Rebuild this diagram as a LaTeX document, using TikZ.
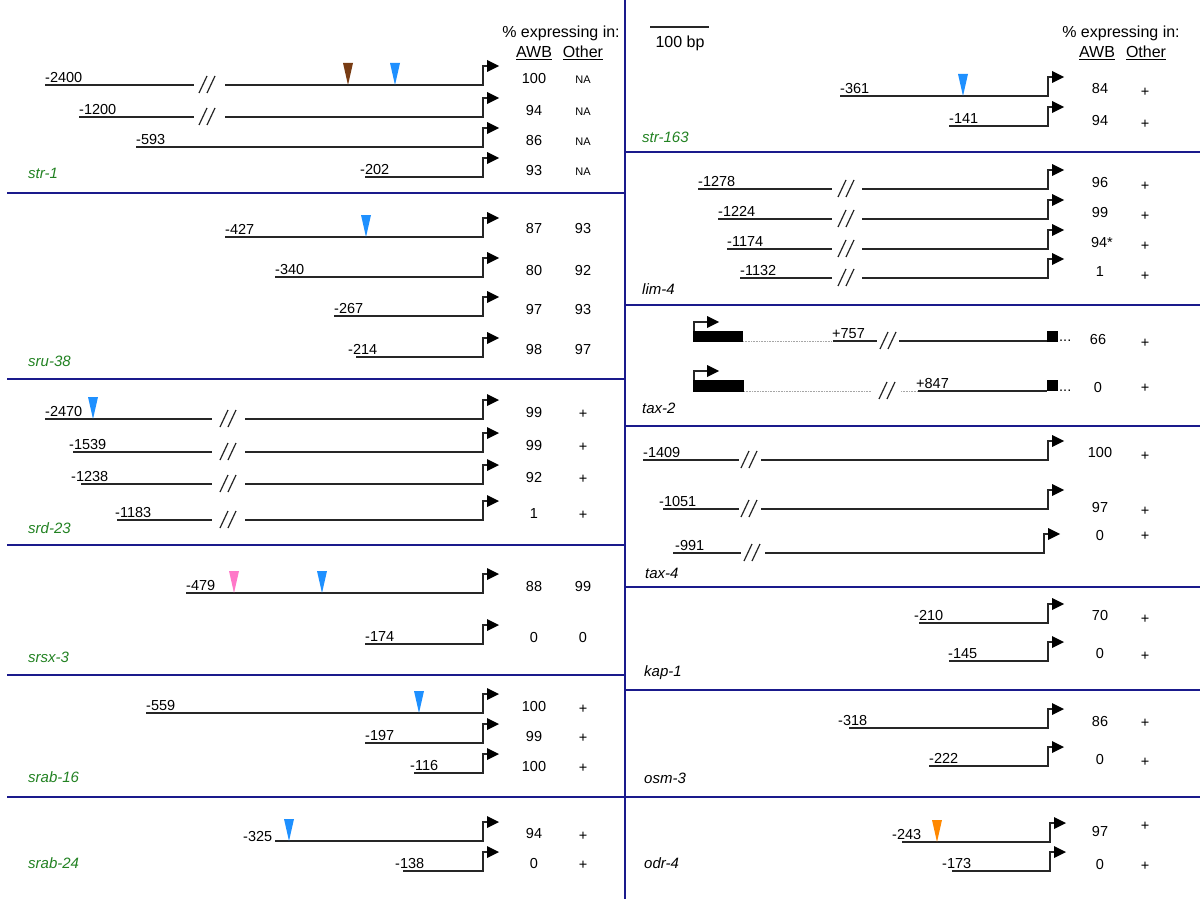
\documentclass[tikz,border=0pt]{standalone}
\usepackage{fontspec}
\setmainfont{Liberation Sans}
\usetikzlibrary{calc}
\definecolor{navy}{RGB}{26,26,140}
\definecolor{gn}{RGB}{34,130,34}
\definecolor{mblue}{RGB}{30,144,255}
\definecolor{mbrown}{RGB}{120,60,20}
\definecolor{mpink}{RGB}{255,120,200}
\definecolor{morange}{RGB}{255,136,0}
\tikzset{
 gl/.style={line width=1.2pt, black!85},
 dotln/.style={line width=0.8pt, gray!70, dash pattern=on 0.8pt off 0.8pt},
 div/.style={line width=2pt, navy},
 lab/.style={font=\fontsize{14.5}{16}\selectfont, inner sep=0pt},
 num/.style={font=\fontsize{14.5}{16}\selectfont, inner sep=0pt},
 na/.style={font=\fontsize{11}{13}\selectfont, inner sep=0pt},
 gene/.style={font=\fontsize{15}{17}\selectfont\itshape, anchor=west, inner sep=0pt},
 hdr/.style={font=\fontsize{16}{18}\selectfont, inner sep=0pt},
}
% #1 name, #2 xstart, #3 y, #4 xarrow, #5 label, #6 dx, #7 dy
\newcommand{\prow}[7]{%
  \coordinate (#1s) at (#2,#3);
  \coordinate (#1e) at (#4,#3);
  \draw[gl] (#1s) -- (#1e) -- ++(0,-19) -- ++(6,0);
  \fill ({#4+4},{#3-25}) -- ++(0,12) -- ++(12,-6) -- cycle;
  \node[lab, anchor=base west] (#1l) at ({#2+#6},{#3-3+#7}) {#5};
}
% gap x1, gap x2, y, slash x
\newcommand{\brk}[4]{%
  \fill[white] (#1,{#3-2}) rectangle (#2,{#3+2});
  \draw[gl] (#4,{#3+8}) -- ({#4+8},{#3-9});
  \draw[gl] ({#4+8},{#3+8}) -- ({#4+16},{#3-9});
}
% colour, x, y
\newcommand{\mk}[3]{\fill[#1] ({#2-5},{#3-22}) -- ({#2+5},{#3-22}) -- (#2,#3) -- cycle;}
\begin{document}
\begin{tikzpicture}[x=1pt,y=-1pt]
\useasboundingbox (0,0) rectangle (1200,899);
\fill[white] (0,0) rectangle (1200,899);

% ---------- dividers
\coordinate (vt) at (625,0); \coordinate (vb) at (625,899);
\draw[div] (vt) -- (vb);
\foreach \yy in {193,379,545,675,797} \draw[div] (7,\yy) -- (625,\yy);
\foreach \yy in {152,305,426,587,690,797} \draw[div] (625,\yy) -- (1200,\yy);

% ---------- headers
\node[hdr] (hl1) at (561,33) {\% expressing in:};
\node[hdr] (hl2) at (534,53) {\underline{AWB}};
\node[hdr] (hl3) at (583,53) {\underline{Other}};
\node[hdr] (hr1) at (1121,33) {\% expressing in:};
\node[hdr] (hr2) at (1097,53) {\underline{AWB}};
\node[hdr] (hr3) at (1146,53) {\underline{Other}};
\coordinate (sb1) at (650,27); \coordinate (sb2) at (709,27);
\draw[gl] (sb1) -- (sb2);
\node[hdr] (sbt) at (680,43) {100 bp};

% ---------- str-1
\prow{a1}{45}{85}{483}{-2400}{0}{0}
\brk{194}{225}{85}{199}
\mk{mbrown}{348}{85} \mk{mblue}{395}{85}
\node[num] (a1n) at (534,79) {100}; \node[na] (a1o) at (583,80) {NA};
\prow{a2}{79}{117}{483}{-1200}{0}{0}
\brk{194}{225}{117}{199}
\node[num] (a2n) at (534,111) {94}; \node[na] (a2o) at (583,112) {NA};
\prow{a3}{136}{147}{483}{-593}{0}{0}
\node[num] (a3n) at (534,141) {86}; \node[na] (a3o) at (583,142) {NA};
\prow{a4}{365}{177}{483}{-202}{-5}{0}
\node[num] (a4n) at (534,171) {93}; \node[na] (a4o) at (583,172) {NA};
\node[gene, gn] (ga) at (28,173) {str-1};

% ---------- sru-38
\prow{b1}{225}{237}{483}{-427}{0}{0}
\mk{mblue}{366}{237}
\node[num] (b1n) at (534,229) {87}; \node[num] (b1o) at (583,229) {93};
\prow{b2}{275}{277}{483}{-340}{0}{0}
\node[num] (b2n) at (534,271) {80}; \node[num] (b2o) at (583,271) {92};
\prow{b3}{334}{316}{483}{-267}{0}{0}
\node[num] (b3n) at (534,310) {97}; \node[num] (b3o) at (583,310) {93};
\prow{b4}{356}{357}{483}{-214}{-8}{0}
\node[num] (b4n) at (534,350) {98}; \node[num] (b4o) at (583,350) {97};
\node[gene, gn] (gb) at (28,361) {sru-38};

% ---------- srd-23
\prow{c1}{45}{419}{483}{-2470}{0}{0}
\brk{212}{245}{419}{220}
\mk{mblue}{93}{419}
\node[num] (c1n) at (534,413) {99}; \node[num] (c1o) at (583,414) {+};
\prow{c2}{73}{452}{483}{-1539}{-4}{0}
\brk{212}{245}{452}{220}
\node[num] (c2n) at (534,446) {99}; \node[num] (c2o) at (583,447) {+};
\prow{c3}{81}{484}{483}{-1238}{-10}{0}
\brk{212}{245}{484}{220}
\node[num] (c3n) at (534,478) {92}; \node[num] (c3o) at (583,479) {+};
\prow{c4}{117}{520}{483}{-1183}{-2}{0}
\brk{212}{245}{520}{220}
\node[num] (c4n) at (534,514) {1}; \node[num] (c4o) at (583,515) {+};
\node[gene, gn] (gc) at (28,528) {srd-23};

% ---------- srsx-3
\prow{d1}{186}{593}{483}{-479}{0}{0}
\mk{mpink}{234}{593} \mk{mblue}{322}{593}
\node[num] (d1n) at (534,587) {88}; \node[num] (d1o) at (583,587) {99};
\prow{d2}{365}{644}{483}{-174}{0}{0}
\node[num] (d2n) at (534,638) {0}; \node[num] (d2o) at (583,638) {0};
\node[gene, gn] (gd) at (28,657) {srsx-3};

% ---------- srab-16
\prow{e1}{146}{713}{483}{-559}{0}{0}
\mk{mblue}{419}{713}
\node[num] (e1n) at (534,707) {100}; \node[num] (e1o) at (583,709) {+};
\prow{e2}{365}{743}{483}{-197}{0}{0}
\node[num] (e2n) at (534,737) {99}; \node[num] (e2o) at (583,738) {+};
\prow{e3}{414}{773}{483}{-116}{-4}{0}
\node[num] (e3n) at (534,767) {100}; \node[num] (e3o) at (583,768) {+};
\node[gene, gn] (ge) at (28,777) {srab-16};

% ---------- srab-24
\prow{f1}{275}{841}{483}{-325}{-32}{3}
\mk{mblue}{289}{841}
\node[num] (f1n) at (534,834) {94}; \node[num] (f1o) at (583,836) {+};
\prow{f2}{403}{871}{483}{-138}{-8}{0}
\node[num] (f2n) at (534,864) {0}; \node[num] (f2o) at (583,865) {+};
\node[gene, gn] (gf) at (28,863) {srab-24};

% ---------- str-163
\prow{g1}{840}{96}{1048}{-361}{0}{0}
\mk{mblue}{963}{96}
\node[num] (g1n) at (1100,89) {84}; \node[num] (g1o) at (1145,92) {+};
\prow{g2}{949}{126}{1048}{-141}{0}{0}
\node[num] (g2n) at (1100,121) {94}; \node[num] (g2o) at (1145,124) {+};
\node[gene, gn] (gg) at (642,137) {str-163};

% ---------- lim-4
\prow{h1}{698}{189}{1048}{-1278}{0}{0}
\brk{832}{862}{189}{838}
\node[num] (h1n) at (1100,183) {96}; \node[num] (h1o) at (1145,186) {+};
\prow{h2}{718}{219}{1048}{-1224}{0}{0}
\brk{832}{862}{219}{838}
\node[num] (h2n) at (1100,213) {99}; \node[num] (h2o) at (1145,216) {+};
\prow{h3}{727}{249}{1048}{-1174}{0}{0}
\brk{832}{862}{249}{838}
\node[num] (h3n) at (1102,243) {94*}; \node[num] (h3o) at (1145,246) {+};
\prow{h4}{740}{278}{1048}{-1132}{0}{0}
\brk{832}{862}{278}{838}
\node[num] (h4n) at (1100,272) {1}; \node[num] (h4o) at (1145,276) {+};
\node[gene] (gh) at (642,289) {lim-4};

% ---------- tax-2
\fill (693,331) rectangle (743,342);
\coordinate (t1a) at (694,331); \coordinate (t1b) at (694,322); \coordinate (t1c) at (708,322);
\draw[gl] (t1a) -- (t1b) -- (t1c);
\fill (707,316) -- (707,328) -- (719,322) -- cycle;
\coordinate (t1d) at (743,341); \coordinate (t1e) at (833,341);
\draw[dotln] (t1d) -- (t1e);
\node[lab, anchor=base west] (t1l) at (832,338) {+757};
\coordinate (t1f) at (877,341); \coordinate (t1g) at (899,341); \coordinate (t1h) at (1047,341);
\draw[gl] (t1e) -- (t1f);
\draw[gl] (880,349) -- (888,332); \draw[gl] (888,349) -- (896,332);
\draw[gl] (t1g) -- (t1h);
\fill (1047,331) rectangle (1058,342);
\node[lab, anchor=base west] (t1x) at (1059,341) {...};
\node[num] (t1n) at (1098,340) {66}; \node[num] (t1o) at (1145,343) {+};

\fill (693,380) rectangle (744,392);
\coordinate (t2a) at (694,380); \coordinate (t2b) at (694,371); \coordinate (t2c) at (708,371);
\draw[gl] (t2a) -- (t2b) -- (t2c);
\fill (707,365) -- (707,377) -- (719,371) -- cycle;
\coordinate (t2d) at (744,391); \coordinate (t2e) at (871,391);
\draw[dotln] (t2d) -- (t2e);
\draw[gl] (879,399) -- (887,382); \draw[gl] (887,399) -- (895,382);
\coordinate (t2f) at (901,391); \coordinate (t2g) at (918,391); \coordinate (t2h) at (1047,391);
\draw[dotln] (t2f) -- (t2g);
\node[lab, anchor=base west] (t2l) at (916,388) {+847};
\draw[gl] (t2g) -- (t2h);
\fill (1047,380) rectangle (1058,391);
\node[lab, anchor=base west] (t2x) at (1059,391) {...};
\node[num] (t2n) at (1098,388) {0}; \node[num] (t2o) at (1145,388) {+};
\node[gene] (gt) at (642,408) {tax-2};

% ---------- tax-4
\prow{i1}{643}{460}{1048}{-1409}{0}{0}
\brk{739}{761}{460}{741}
\node[num] (i1n) at (1100,453) {100}; \node[num] (i1o) at (1145,456) {+};
\prow{i2}{663}{509}{1048}{-1051}{-4}{0}
\brk{739}{761}{509}{741}
\node[num] (i2n) at (1100,508) {97}; \node[num] (i2o) at (1145,511) {+};
\prow{i3}{673}{553}{1044}{-991}{2}{0}
\brk{741}{765}{553}{744}
\node[num] (i3n) at (1100,536) {0}; \node[num] (i3o) at (1145,536) {+};
\node[gene] (gi) at (645,573) {tax-4};

% ---------- kap-1
\prow{j1}{919}{623}{1048}{-210}{-5}{0}
\node[num] (j1n) at (1100,616) {70}; \node[num] (j1o) at (1145,619) {+};
\prow{j2}{949}{661}{1048}{-145}{-1}{0}
\node[num] (j2n) at (1100,654) {0}; \node[num] (j2o) at (1145,656) {+};
\node[gene] (gj) at (644,673) {kap-1};

% ---------- osm-3
\prow{k1}{849}{728}{1048}{-318}{-11}{0}
\node[num] (k1n) at (1100,722) {86}; \node[num] (k1o) at (1145,723) {+};
\prow{k2}{929}{766}{1048}{-222}{0}{0}
\node[num] (k2n) at (1100,760) {0}; \node[num] (k2o) at (1145,762) {+};
\node[gene] (gk) at (644,778) {osm-3};

% ---------- odr-4
\prow{l1}{902}{842}{1050}{-243}{-10}{0}
\mk{morange}{937}{842}
\node[num] (l1n) at (1100,832) {97}; \node[num] (l1o) at (1145,826) {+};
\prow{l2}{952}{871}{1050}{-173}{-10}{0}
\node[num] (l2n) at (1100,865) {0}; \node[num] (l2o) at (1145,866) {+};
\node[gene] (gm) at (644,863) {odr-4};
\end{tikzpicture}
\end{document}
